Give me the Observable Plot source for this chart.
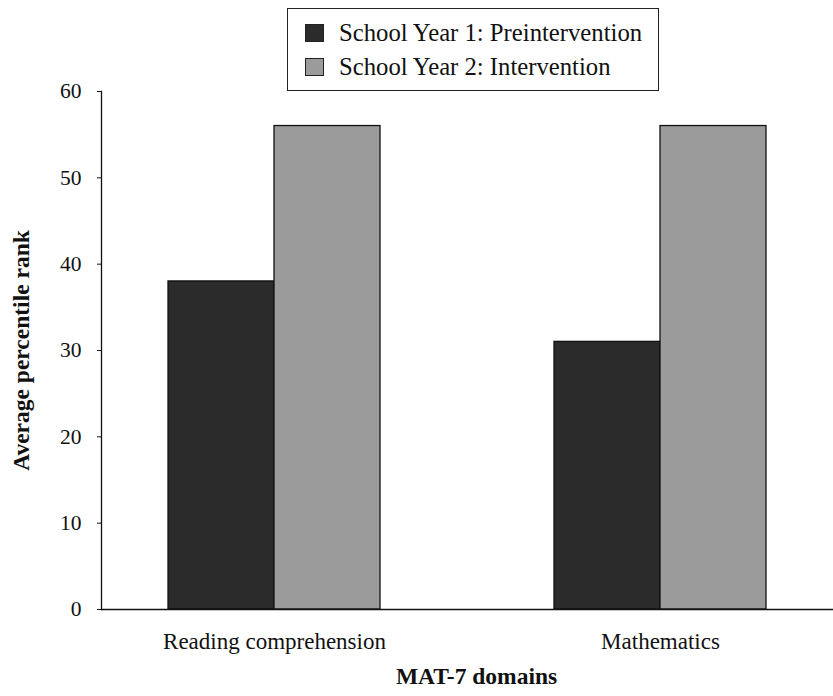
<!DOCTYPE html>
<html>
<head>
<meta charset="utf-8">
<script src="https://cdn.jsdelivr.net/npm/d3@7"></script>
<script src="https://cdn.jsdelivr.net/npm/@observablehq/plot@0.6"></script>
<style>
  html, body { margin: 0; padding: 0; background: #fff; }
  #wrap { position: relative; width: 833px; height: 696px; font-family: "Liberation Serif", "Times New Roman", serif; color: #111; }
  #legend { position: absolute; left: 287px; top: 8px; width: 372px; height: 83px; border: 1.5px solid #222; box-sizing: border-box; background: #fff; }
  .row { position: absolute; left: 17px; display: flex; align-items: center; font-size: 24.7px; white-space: nowrap; }
  .sw { width: 19px; height: 18px; margin-right: 15px; border: 1px solid #222; box-sizing: border-box; }
</style>
</head>
<body>
<div id="wrap">
  <div id="chart"></div>
  <div id="legend"></div>
</div>
<script>
const categories = ["Reading comprehension", "Mathematics"];
const seriesNames = ["School Year 1: Preintervention", "School Year 2: Intervention"];
const year1 = [38, 31];
const year2 = [56, 56];
const yTicks = [0, 10, 20, 30, 40, 50, 60];
const seriesColors = ["#2b2b2b", "#9b9b9b"];
const xTitle = "MAT-7 domains";
const yTitle = "Average percentile rank";

const rows1 = categories.map((c, i) => ({category: c, series: seriesNames[0], value: year1[i]}));
const rows2 = categories.map((c, i) => ({category: c, series: seriesNames[1], value: year2[i]}));

const fontFamily = '"Liberation Serif", "Times New Roman", serif';

const chart = Plot.plot({
  width: 833,
  height: 696,
  marginLeft: 101,
  marginRight: 0,
  marginTop: 91,
  marginBottom: 87,
  style: {fontFamily, fontSize: "21px", color: "#111", background: "transparent"},
  x: {domain: categories, range: [168, 766], paddingInner: 0.451, paddingOuter: 0, label: null},
  y: {domain: [0, 60], label: null},
  color: {domain: seriesNames, range: seriesColors},
  marks: [
    Plot.barY(rows1, {x: "category", y: "value", fill: "series", stroke: "#111", strokeWidth: 1.3, insetRight: 106}),
    Plot.barY(rows2, {x: "category", y: "value", fill: "series", stroke: "#111", strokeWidth: 1.3, insetLeft: 106}),
    Plot.frame({anchor: "left", stroke: "#111", strokeWidth: 1.3}),
    Plot.ruleY([0], {stroke: "#111", strokeWidth: 1.3}),
    Plot.axisY({ticks: yTicks, tickSize: 4, tickPadding: 16, fontSize: 21.5, label: null, stroke: "#111"}),
    Plot.axisX({tickSize: 0, tickPadding: 23, fontSize: 23, label: null}),
    Plot.text([xTitle], {frameAnchor: "bottom", dy: 74, dx: 9, fontSize: 23.5, fontWeight: "bold", fill: "#111"}),
    Plot.text([yTitle], {frameAnchor: "left", textAnchor: "middle", dx: -80, rotate: -90, fontSize: 23.5, fontWeight: "bold", fill: "#111"})
  ]
});
document.getElementById("chart").appendChild(chart);

const legend = document.getElementById("legend");
seriesNames.forEach((name, i) => {
  const row = document.createElement("div");
  row.className = "row";
  row.style.top = (i === 0 ? 10 : 44) + "px";
  const sw = document.createElement("div");
  sw.className = "sw";
  sw.style.background = seriesColors[i];
  const label = document.createElement("span");
  label.textContent = name;
  row.appendChild(sw);
  row.appendChild(label);
  legend.appendChild(row);
});
</script>
</body>
</html>
